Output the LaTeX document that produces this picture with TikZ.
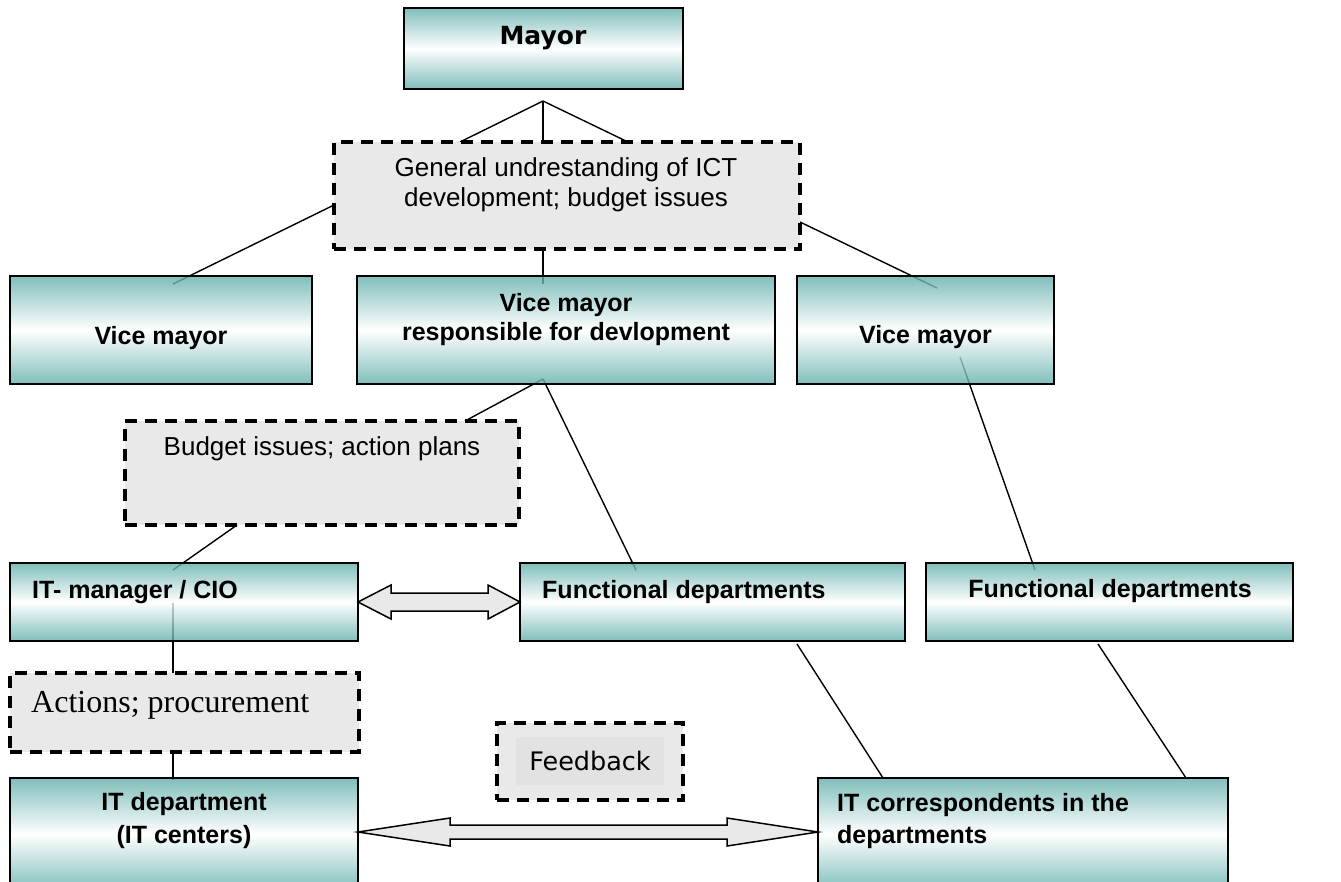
\documentclass[tikz,border=0pt]{standalone}
\usepackage{fontspec}
\setmainfont{Liberation Sans}
\newfontfamily\verdfont{DejaVu Sans}
\newfontfamily\romanfont{Liberation Serif}
\usetikzlibrary{calc}

\definecolor{tealshade}{RGB}{96,174,171}
\definecolor{notegrey}{RGB}{233,233,233}
\definecolor{notegreyin}{RGB}{226,226,226}

\begin{document}
\begin{tikzpicture}[x=1pt,y=-1pt,
  tealbox/.style={draw=black, line width=2pt, top color=tealshade,
    bottom color=tealshade, middle color=white, fill opacity=0.8,
    draw opacity=1, inner sep=0pt, outer sep=0pt},
  notebox/.style={draw=black, fill=notegrey, line width=3.5pt,
    dash pattern=on 12pt off 8pt, inner sep=0pt, outer sep=0pt},
  link/.style={draw=black, line width=1.4pt},
  fatarrow/.style={draw=black, fill=notegrey, line width=1.5pt, line join=miter},
  boldlabel/.style={font=\fontsize{25}{29}\selectfont\bfseries, align=center, inner sep=0pt},
  leftlabel/.style={font=\fontsize{25}{32}\selectfont\bfseries, align=left, inner sep=0pt, anchor=west},
  notelabel/.style={font=\fontsize{26}{30}\selectfont, align=center, inner sep=0pt}
]
\useasboundingbox (0,0) rectangle (1341,881);

% ---------- box geometry (drawn later, above the connectors) ----------
\path (543.5,48.5) coordinate (mayorC);

% connectors first, so the translucent boxes sit on top of their ends
\coordinate (apex) at (543,101);

% placeholders for node positions used by the connectors
\node[minimum width=279pt, minimum height=81pt, inner sep=0pt, outer sep=0pt] (mayor) at (543.5,48.5) {};
\node[minimum width=466pt, minimum height=107pt, inner sep=0pt, outer sep=0pt] (gen) at (567,195.5) {};
\node[minimum width=302pt, minimum height=108pt, inner sep=0pt, outer sep=0pt] (vm1) at (161,330) {};
\node[minimum width=418pt, minimum height=108pt, inner sep=0pt, outer sep=0pt] (vm2) at (566,330) {};
\node[minimum width=257pt, minimum height=108pt, inner sep=0pt, outer sep=0pt] (vm3) at (925.5,330) {};
\node[minimum width=394pt, minimum height=104pt, inner sep=0pt, outer sep=0pt] (bud) at (322,473) {};
\node[minimum width=348pt, minimum height=78pt, inner sep=0pt, outer sep=0pt] (itm) at (184,602) {};
\node[minimum width=385pt, minimum height=78pt, inner sep=0pt, outer sep=0pt] (fd1) at (712.5,602) {};
\node[minimum width=367pt, minimum height=78pt, inner sep=0pt, outer sep=0pt] (fd2) at (1109.5,602) {};
\node[minimum width=349pt, minimum height=79pt, inner sep=0pt, outer sep=0pt] (act) at (184.5,712.5) {};
\node[minimum width=186pt, minimum height=77pt, inner sep=0pt, outer sep=0pt] (fb) at (590,761.5) {};
\node[minimum width=348pt, minimum height=112pt, inner sep=0pt, outer sep=0pt] (itd) at (184,834) {};
\node[minimum width=410pt, minimum height=112pt, inner sep=0pt, outer sep=0pt] (itc) at (1023,834) {};

% from the mayor down to the first note
\draw[link] (apex) -- ($(gen.north west)+(126,0)$);
\draw[link] (apex) -- (gen.north -| apex);
\draw[link] (apex) -- ($(gen.north west)+(294,0)$);

% first note to the three vice mayors
\draw[link] ($(gen.west)+(0,9.5)$) -- ($(vm1.north west)+(163,8)$);
\draw[link] ($(gen.east)+(0,26.5)$) -- ($(vm3.north west)+(140,12)$);
\draw[link] (gen.south -| apex) -- ($(vm2.north west)+(186,8)$);

% development vice mayor downwards
\draw[link] ($(vm2.south west)+(186,-5)$) -- ($(bud.north west)+(340,0)$);
\draw[link] ($(vm2.south west)+(186,-5)$) -- ($(fd1.north west)+(116,7)$);

% budget note to the IT manager, IT manager down to the IT department
\draw[link] ($(bud.south west)+(112,0)$) -- ($(itm.north west)+(163,7)$);
\draw[link] ($(itm.north west)+(163,40)$) -- (act.north -| {$(itm.north west)+(163,0)$});
\draw[link] ($(act.south west)+(163,0)$) -- ($(itd.north west)+(163,2)$);

% functional departments to the IT correspondents
\draw[link] ($(fd1.south west)+(277,3)$) -- ($(itc.north west)+(65,0)$);
\draw[link] ($(fd2.south west)+(172,3)$) -- ($(itc.north west)+(368,0)$);

% third vice mayor to its functional departments
\draw[link] ($(vm3.north west)+(163,81)$) -- ($(fd2.north west)+(109,7)$);

% ---------- boxes ----------
\node[tealbox, minimum width=279pt, minimum height=81pt] at (mayor) {};
\node[tealbox, minimum width=302pt, minimum height=108pt] at (vm1) {};
\node[tealbox, minimum width=418pt, minimum height=108pt] at (vm2) {};
\node[tealbox, minimum width=257pt, minimum height=108pt] at (vm3) {};
\node[tealbox, minimum width=348pt, minimum height=78pt] at (itm) {};
\node[tealbox, minimum width=385pt, minimum height=78pt] at (fd1) {};
\node[tealbox, minimum width=367pt, minimum height=78pt] at (fd2) {};
\node[tealbox, minimum width=348pt, minimum height=112pt] at (itd) {};
\node[tealbox, minimum width=410pt, minimum height=112pt] at (itc) {};

\node[notebox, minimum width=466pt, minimum height=107pt] at (gen) {};
\node[notebox, minimum width=394pt, minimum height=104pt] at (bud) {};
\node[notebox, minimum width=349pt, minimum height=79pt] at (act) {};
\node[notebox, minimum width=186pt, minimum height=77pt] at (fb) {};

% ---------- two-way arrows ----------
\draw[fatarrow] (itm.east) -- ++(33,-17) -- ++(0,8)
  -- ($(fd1.west)+(-32,-9)$) -- ++(0,-8) -- (fd1.west) -- ++(-32,17) -- ++(0,-8)
  -- ($(itm.east)+(33,9)$) -- ++(0,8) -- cycle;

\coordinate (lowL) at ($(itd.north east)+(0,54)$);
\coordinate (lowR) at ($(itc.north west)+(0,54)$);
\draw[fatarrow] (lowL) -- ++(92,-14) -- ++(0,7)
  -- ($(lowR)+(-91,-7)$) -- ++(0,-7) -- (lowR) -- ++(-91,14) -- ++(0,-7)
  -- ($(lowL)+(92,7)$) -- ++(0,7) -- cycle;

% ---------- texts ----------
\node[inner sep=0pt, font=\verdfont\fontsize{25}{29}\selectfont\bfseries] (tmayor) at (543,38) {Mayor};
\node[notelabel] (tgen) at (566,185) {General undrestanding of ICT\\development; budget issues};
\node[boldlabel] (tvm1) at (161,338) {Vice mayor};
\node[boldlabel] (tvm2) at (566,320) {Vice mayor\\responsible for devlopment};
\node[boldlabel] (tvm3) at (925.5,337) {Vice mayor};
\node[notelabel] (tbud) at (322,449) {Budget issues; action plans};
\node[leftlabel] (titm) at (32,592) {IT- manager / CIO};
\node[leftlabel] (tfd1) at (542,592) {Functional departments};
\node[boldlabel] (tfd2) at (1110,591) {Functional departments};
\node[inner sep=0pt, anchor=west, font=\romanfont\fontsize{32}{36}\selectfont] (tact) at (31,705) {Actions; procurement};
\node[fill=notegreyin, inner xsep=13pt, inner ysep=14pt, font=\verdfont\fontsize{25.5}{30}\selectfont] (tfb) at (590,761) {Feedback};
\node[boldlabel, font=\fontsize{25}{33}\selectfont\bfseries] (titd) at (184,821) {IT department\\(IT centers)};
\node[leftlabel] (titc) at (837,821) {IT correspondents in the\\departments};
\end{tikzpicture}
\end{document}
